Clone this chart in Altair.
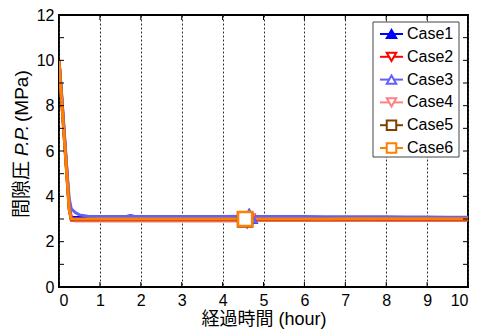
import altair as alt
import pandas as pd

FONT = "Liberation Sans, Arial, Noto Sans CJK JP"

cases = ["Case1", "Case2", "Case3", "Case4", "Case5", "Case6"]
colors = ["#0000ff", "#ff0000", "#6060ff", "#ff8080", "#804000", "#ff8000"]
fills = ["#0000ff", "#ffffff", "#ffffff", "#ffffff", "#ffffff", "#ffffff"]
shapes = ["triangle-up", "triangle-down", "triangle-up", "triangle-down", "square", "square"]

time_h = [0, 0.05, 0.1, 0.15, 0.2, 0.25, 0.3, 0.4, 0.5, 0.7, 1.0, 1.5, 1.75, 2.0,
          2.5, 3.0, 3.5, 4.0, 4.5, 5.0, 5.5, 6.0, 6.5, 7.0, 7.5, 8.0, 8.5, 9.0, 9.5, 10.0]
pp_case1 = [10, 8.8, 7.5, 6.2, 4.9, 3.6, 3.08, 3.07, 3.07, 3.07, 3.07, 3.07, 3.14, 3.07,
            3.07, 3.07, 3.07, 3.07, 3.08, 3.07, 3.07, 3.06, 3.06, 3.06, 3.06, 3.05, 3.05, 3.05, 3.04, 3.04]
pp_case2 = [10, 8.7, 7.4, 6.1, 4.8, 3.5, 2.95, 2.92, 2.92, 2.92, 2.92, 2.92, 2.92, 2.92,
            2.92, 2.92, 2.92, 2.92, 2.92, 2.93, 2.93, 2.93, 2.93, 2.93, 2.94, 2.94, 2.94, 2.95, 2.95, 2.95]
pp_case3 = [10, 8.9, 7.6, 6.3, 5.0, 3.9, 3.45, 3.28, 3.18, 3.12, 3.11, 3.11, 3.11, 3.11,
            3.11, 3.11, 3.11, 3.11, 3.12, 3.11, 3.11, 3.11, 3.1, 3.1, 3.1, 3.1, 3.09, 3.09, 3.08, 3.08]
pp_case4 = [10, 8.7, 7.4, 6.1, 4.8, 3.5, 2.97, 2.94, 2.94, 2.94, 2.94, 2.94, 2.94, 2.94,
            2.94, 2.94, 2.94, 2.94, 2.94, 2.95, 2.95, 2.95, 2.95, 2.95, 2.95, 2.96, 2.96, 2.96, 2.96, 2.96]
pp_case5 = [10, 8.6, 7.3, 6.0, 4.7, 3.4, 2.99, 2.98, 2.98, 2.98, 2.98, 2.98, 2.98, 2.98,
            2.98, 2.98, 2.98, 2.98, 2.98, 2.98, 2.98, 2.98, 2.99, 2.99, 2.99, 2.99, 2.99, 2.99, 2.99, 2.99]
pp_case6 = [10, 8.6, 7.3, 6.0, 4.7, 3.4, 3.01, 3.0, 3.0, 3.0, 3.0, 3.0, 3.0, 3.0,
            3.0, 3.0, 3.0, 3.0, 3.0, 3.0, 3.0, 3.0, 3.0, 3.01, 3.01, 3.01, 3.01, 3.01, 3.01, 3.01]

marker_t = [4.65, 4.6, 4.65, 4.6, 4.55, 4.55]
marker_pp = [3.1, 2.92, 3.12, 2.94, 2.98, 3.0]

x_ticks = list(range(0, 11))
y_ticks = list(range(0, 13))
y_label_values = [0, 2, 4, 6, 8, 10, 12]
title_parts = ["間隙圧 ", "P.P.", "(MPa)"]
x_title = "経過時間 (hour)"

series = [pp_case1, pp_case2, pp_case3, pp_case4, pp_case5, pp_case6]
rows = []
for c, vals in zip(cases, series):
    for t, v in zip(time_h, vals):
        rows.append({"t": t, "pp": v, "case": c})
df = pd.DataFrame(rows)
df_m = pd.DataFrame({"t": marker_t, "pp": marker_pp, "case": cases})
df_leg = pd.DataFrame({"case": cases})

W, H = 409, 272
xs = alt.Scale(domain=[0, 10], nice=False, zero=False)
ys = alt.Scale(domain=[0, 12], nice=False, zero=False)
stroke_scale = alt.Scale(domain=cases, range=colors)
fill_scale = alt.Scale(domain=cases, range=fills)
shape_scale = alt.Scale(domain=cases, range=shapes)
leg_y_scale = alt.Scale(type="point", domain=cases, range=[19, 133], padding=0)

ax_x = alt.Axis(
    title=x_title, values=x_ticks, format="d", labelFontSize=16, labelFont=FONT,
    labelColor="black", labelPadding=5, domain=False, ticks=False, grid=True,
    gridDash=[2, 2], gridColor="#333", gridWidth=1, titleFontSize=18,
    titleFont=FONT, titleFontWeight="normal", titleColor="black", titlePadding=2)
ax_y = alt.Axis(
    title="", values=y_label_values, labelFontSize=16, labelFont=FONT,
    labelColor="black", labelPadding=5, domain=False, ticks=False, grid=False)

X = alt.X("t:Q", scale=xs, axis=ax_x)
Y = alt.Y("pp:Q", scale=ys, axis=ax_y)
Yn = alt.Y("pp:Q", scale=ys, axis=None)
STROKE = alt.Stroke("case:N", scale=stroke_scale, legend=None)
FILL = alt.Fill("case:N", scale=fill_scale, legend=None)
SHAPE = alt.Shape("case:N", scale=shape_scale, legend=None)

lines = alt.Chart(df).mark_line(strokeWidth=3, clip=True).encode(
    x=X, y=Y, stroke=STROKE)

markers = alt.Chart(df_m).mark_point(filled=True, size=200, strokeWidth=2.5, opacity=1).encode(
    x=X, y=Yn, stroke=STROKE, fill=FILL, shape=SHAPE)

df_xt = pd.DataFrame({"t": x_ticks})
df_yt = pd.DataFrame({"pp": y_ticks})
xt_bottom = alt.Chart(df_xt).mark_rule(color="black", strokeWidth=1).encode(
    x=X, y=alt.value(H), y2=alt.value(H - 5))
xt_top = alt.Chart(df_xt).mark_rule(color="black", strokeWidth=1).encode(
    x=X, y=alt.value(0), y2=alt.value(5))
yt_left = alt.Chart(df_yt).mark_rule(color="black", strokeWidth=1).encode(
    y=Yn, x=alt.value(0), x2=alt.value(5))
yt_right = alt.Chart(df_yt).mark_rule(color="black", strokeWidth=1).encode(
    y=Yn, x=alt.value(W), x2=alt.value(W - 5))

# legend (box, line samples, symbols, labels)
LY = alt.Y("case:N", scale=leg_y_scale, axis=None)
leg_box = alt.Chart(pd.DataFrame({"k": [0]})).mark_rect(
    fill="white", stroke="#444", strokeWidth=1).encode(
    x=alt.value(314), x2=alt.value(400), y=alt.value(7), y2=alt.value(142))
leg_lines = alt.Chart(df_leg).mark_rule(strokeWidth=2).encode(
    y=LY, x=alt.value(321), x2=alt.value(344), stroke=STROKE)
leg_pts = alt.Chart(df_leg).mark_point(filled=True, size=90, strokeWidth=2, opacity=1).encode(
    y=LY, x=alt.value(332.5), stroke=STROKE, fill=FILL, shape=SHAPE)
leg_txt = alt.Chart(df_leg).mark_text(
    align="left", baseline="middle", fontSize=16, font=FONT, color="black").encode(
    y=LY, x=alt.value(348), text="case:N")

def title_piece(txt, ypos, style):
    return alt.Chart(pd.DataFrame({"s": [txt]})).mark_text(
        angle=270, align="left", baseline="middle", fontSize=19, font=FONT,
        fontStyle=style, color="black").encode(
        text="s:N", x=alt.value(-37), y=alt.value(ypos))

yt1 = title_piece(title_parts[0], 203, "normal")
yt2 = title_piece(title_parts[1], 141, "italic")
yt3 = title_piece(title_parts[2], 107, "normal")

chart = alt.layer(
    lines, markers, xt_bottom, xt_top, yt_left, yt_right,
    leg_box, leg_lines, leg_pts, leg_txt, yt1, yt2, yt3
).resolve_scale(y="independent").properties(
    width=W, height=H,
    autosize=alt.AutoSizeParams(type="none"),
    padding={"left": 51, "top": 7, "right": 1, "bottom": 45},
).configure_view(stroke="black", strokeWidth=2)

chart.save("out.html", embed_options={"renderer": "svg", "actions": False})
